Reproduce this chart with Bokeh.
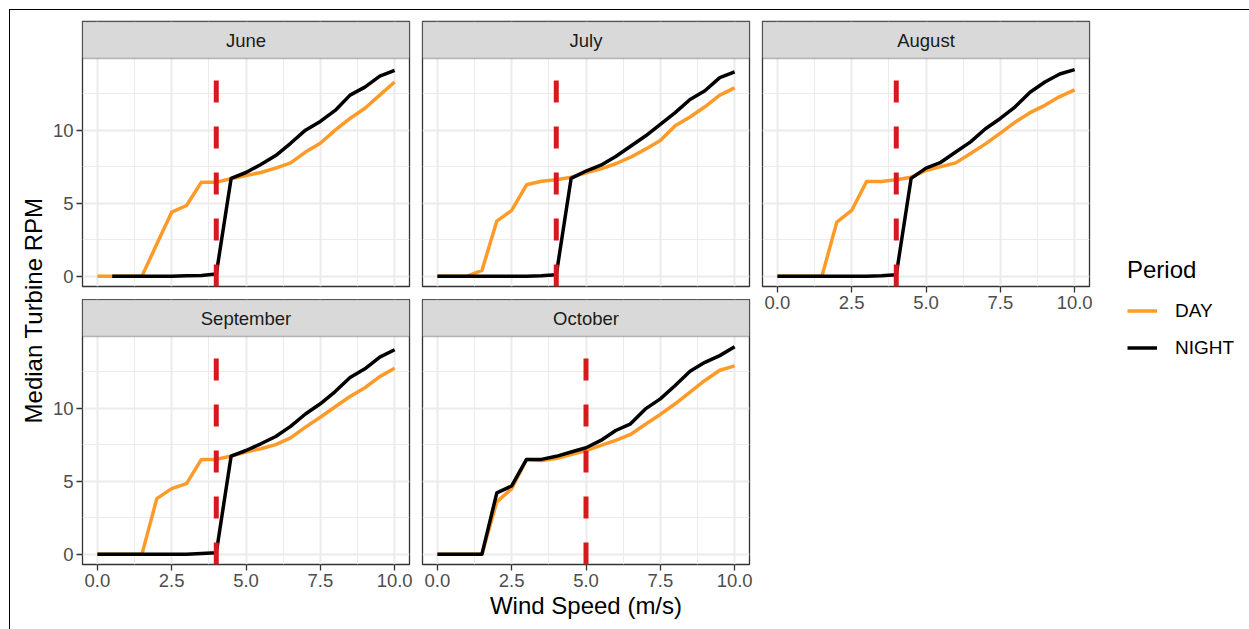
import math
from bokeh.plotting import figure
from bokeh.layouts import row, column
from bokeh.models import (Range1d, FixedTicker, LinearAxis, BoxAnnotation, Label, Grid,
                          NumeralTickFormatter, BasicTickFormatter, Legend, LegendItem)
from bokeh.embed import file_html
from bokeh.resources import INLINE

# ---------------- data ----------------
wind_speed = [0.0, 0.5, 1.0, 1.5, 2.0, 2.5, 3.0, 3.5, 4.0, 4.5, 5.0,
              5.5, 6.0, 6.5, 7.0, 7.5, 8.0, 8.5, 9.0, 9.5, 10.0]
months = ["June", "July", "August", "September", "October"]
periods = ["DAY", "NIGHT"]

june_day = [0, 0, 0, 0, 2.2, 4.38, 4.84, 6.44, 6.44, 6.67, 6.9,
            7.1, 7.4, 7.76, 8.5, 9.1, 10.0, 10.8, 11.5, 12.4, 13.3]
june_night = [float("nan"), 0, 0, 0, 0, 0, 0.02, 0.05, 0.15, 6.7, 7.1,
              7.65, 8.26, 9.1, 10.0, 10.6, 11.35, 12.4, 12.95, 13.7, 14.1]
july_day = [0, 0, 0, 0.39, 3.77, 4.5, 6.26, 6.5, 6.6, 6.78, 7.08,
            7.35, 7.7, 8.15, 8.7, 9.3, 10.3, 10.9, 11.6, 12.4, 12.9]
july_night = [0, 0, 0, 0, 0, 0, 0, 0.03, 0.1, 6.7, 7.2,
              7.6, 8.2, 8.9, 9.6, 10.4, 11.2, 12.1, 12.7, 13.6, 14.0]
august_day = [0, 0, 0, 0, 3.7, 4.5, 6.48, 6.48, 6.6, 6.78, 7.24,
              7.5, 7.76, 8.4, 9.06, 9.8, 10.55, 11.2, 11.7, 12.3, 12.76]
august_night = [0, 0, 0, 0, 0, 0, 0, 0.02, 0.1, 6.7, 7.4,
                7.8, 8.5, 9.2, 10.1, 10.8, 11.6, 12.6, 13.3, 13.85, 14.15]
september_day = [0, 0, 0, 0, 3.8, 4.49, 4.83, 6.49, 6.49, 6.72, 7.0,
                 7.22, 7.5, 7.97, 8.7, 9.38, 10.1, 10.8, 11.4, 12.16, 12.73]
september_night = [0, 0, 0, 0, 0, 0, 0, 0.05, 0.1, 6.72, 7.1,
                   7.56, 8.06, 8.75, 9.6, 10.3, 11.14, 12.1, 12.7, 13.5, 14.0]
october_day = [0, 0, 0, 0, 3.58, 4.49, 6.49, 6.42, 6.55, 6.82, 7.1,
               7.45, 7.8, 8.2, 8.9, 9.57, 10.3, 11.1, 11.9, 12.6, 12.9]
october_night = [0, 0, 0, 0, 4.2, 4.67, 6.49, 6.49, 6.7, 7.0, 7.29,
                 7.79, 8.47, 8.93, 9.95, 10.64, 11.55, 12.53, 13.14, 13.6, 14.2]
day_series = [june_day, july_day, august_day, september_day, october_day]
night_series = [june_night, july_night, august_night, september_night, october_night]
thresholds = [4.0, 4.0, 4.0, 4.0, 5.0]

x_ticks = [0.0, 2.5, 5.0, 7.5, 10.0]
x_minor = [1.25, 3.75, 6.25, 8.75]
y_ticks = [0, 5, 10]
y_minor = [2.5, 7.5, 12.5]

# ---------------- style ----------------
FONT = "Liberation Sans"
ORANGE = "#FD9A28"
RED = "#D7191C"
DARK = "#333333"
STRIP = "#D9D9D9"
GRIDC = "#EBEBEB"
TICKC = "#4D4D4D"

X0, X1 = -0.5, 10.5
Y0, Y1 = -0.71, 14.91
PANEL_H, STRIP_H, FRAME_W = 228, 37, 327
UNIT = PANEL_H / (Y1 - Y0)
YTOP = Y1 + STRIP_H / UNIT


def style_axis(ax):
    ax.axis_line_color = None
    ax.major_tick_line_color = DARK
    ax.major_tick_line_width = 1.3
    ax.major_tick_out = 6
    ax.major_tick_in = 0
    ax.minor_tick_line_color = None
    ax.major_label_text_font = FONT
    ax.major_label_text_font_size = "18.5px"
    ax.major_label_text_color = TICKC
    ax.major_label_standoff = 3


def make_panel(i, top, bottom, left, show_y, show_x, xlabel=None):
    p = figure(frame_width=FRAME_W, frame_height=PANEL_H + STRIP_H,
               x_range=Range1d(X0, X1), y_range=Range1d(Y0, YTOP),
               x_axis_location=None, y_axis_location=None,
               toolbar_location=None, output_backend="svg",
               min_border_top=top, min_border_bottom=bottom,
               min_border_left=left, min_border_right=6,
               background_fill_color="white", border_fill_color=None,
               outline_line_color=DARK, outline_line_width=1.3)
    p.center = [c for c in p.center if not isinstance(c, Grid)]
    gx = Grid(dimension=0, ticker=FixedTicker(ticks=x_ticks, minor_ticks=x_minor),
              grid_line_color=GRIDC, grid_line_width=2,
              minor_grid_line_color=GRIDC, minor_grid_line_width=1)
    gy = Grid(dimension=1, ticker=FixedTicker(ticks=y_ticks, minor_ticks=y_minor),
              grid_line_color=GRIDC, grid_line_width=2,
              minor_grid_line_color=GRIDC, minor_grid_line_width=1)
    p.add_layout(gx)
    p.add_layout(gy)

    p.line(wind_speed, day_series[i], line_color=ORANGE, line_width=3.5, line_join="round")
    p.line(wind_speed, night_series[i], line_color="black", line_width=3.5, line_join="round")
    p.segment(x0=[thresholds[i]], y0=[Y0], x1=[thresholds[i]], y1=[Y1],
              line_color=RED, line_width=5, line_dash="22 24")

    p.add_layout(BoxAnnotation(bottom=Y1, fill_color=STRIP, fill_alpha=1.0,
                               line_color=DARK, line_width=1.3))
    p.add_layout(Label(x=(X0 + X1) / 2, y=(Y1 + YTOP) / 2, text=months[i],
                       text_align="center", text_baseline="middle",
                       text_font=FONT, text_font_size="18.5px", text_color="#1A1A1A"))
    if show_y:
        ax = LinearAxis(ticker=FixedTicker(ticks=y_ticks), formatter=BasicTickFormatter())
        style_axis(ax)
        p.add_layout(ax, "left")
    if show_x:
        ax = LinearAxis(ticker=FixedTicker(ticks=x_ticks), formatter=NumeralTickFormatter(format="0.0"))
        style_axis(ax)
        if xlabel:
            ax.axis_label = xlabel
            ax.axis_label_text_font = FONT
            ax.axis_label_text_font_size = "24px"
            ax.axis_label_text_font_style = "normal"
            ax.axis_label_text_color = "black"
            ax.axis_label_standoff = 2
        p.add_layout(ax, "below")
    return p


f_june = make_panel(0, 21, 13, 36, True, False)
f_july = make_panel(1, 21, 13, 7, False, False)
f_aug = make_panel(2, 21, 40, 7, False, True)
f_sep = make_panel(3, 0, 40, 36, True, True)
f_oct = make_panel(4, 0, 65, 7, False, True, "Wind Speed (m/s)")

# y-axis title
ft = figure(width=46, height=629, x_range=Range1d(0, 46), y_range=Range1d(629, 0),
            x_axis_location=None, y_axis_location=None, toolbar_location=None,
            output_backend="svg", min_border=0, outline_line_color=None,
            background_fill_color=None, border_fill_color=None)
ft.grid.visible = False
ft.add_layout(Label(x=33, y=310, text="Median Turbine RPM", angle=math.pi / 2,
                    text_align="center", text_baseline="middle",
                    text_font=FONT, text_font_size="24px", text_color="black"))

# legend (single-point key renderers: they draw nothing in the plot area)
fl = figure(width=154, height=629, x_range=Range1d(0, 1), y_range=Range1d(0, 1),
            x_axis_location=None, y_axis_location=None, toolbar_location=None,
            output_backend="svg", min_border=0, outline_line_color=None,
            background_fill_color=None, border_fill_color=None)
fl.grid.visible = False
r_day = fl.line(x=wind_speed[:1], y=june_day[:1], line_color=ORANGE, line_width=3.5)
r_night = fl.line(x=wind_speed[:1], y=july_night[:1], line_color="black", line_width=3.5)
legend = Legend(items=[LegendItem(label=periods[0], renderers=[r_day]),
                       LegendItem(label=periods[1], renderers=[r_night])],
                location=(32, 263), title="Period",
                title_text_font=FONT, title_text_font_size="24px",
                title_text_font_style="normal", title_text_color="black",
                title_standoff=8,
                label_text_font=FONT, label_text_font_size="19px", label_text_color="black",
                glyph_width=30, glyph_height=37, label_height=37, label_standoff=18,
                spacing=0, padding=0, margin=0,
                border_line_color=None, background_fill_alpha=0)
fl.add_layout(legend)

col1 = column(f_june, f_sep, spacing=0)
col2 = column(f_july, f_oct, spacing=0)
col3 = column(f_aug, spacing=0)
layout = row(ft, col1, col2, col3, fl, spacing=0,
             styles={"background": "linear-gradient(#000,#000) 9px 9px / 1240px 1px no-repeat, "
                                   "linear-gradient(#000,#000) 9px 9px / 1px 620px no-repeat, #ffffff"})

open("out.html", "w").write(file_html(layout, INLINE))
